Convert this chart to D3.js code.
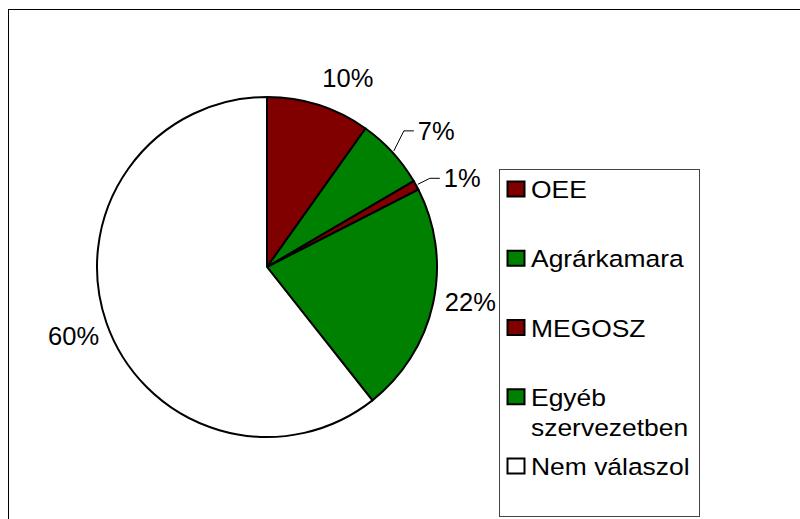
<!DOCTYPE html>
<html>
  <head>
    <meta charset="utf-8">
    <script src="https://d3js.org/d3.v7.min.js"></script>
    <style>
      body { margin: 0; background: #fff; }
      svg { display: block; font-family: "Liberation Sans", Arial, sans-serif; }
    </style>
  </head>
  <body>
    <svg width="800" height="519"></svg>
    <script>
      const categories = ["OEE", "Agrárkamara", "MEGOSZ", "Egyéb szervezetben", "Nem válaszol"];
      const values = [9.8, 6.7, 0.9, 21.8, 60.4];
      const colors = ["#800000", "#008000", "#800000", "#008000", "#ffffff"];

      const svg = d3.select("svg");
      const cx = 267, cy = 267, r = 170;

      // outer chart frame (runs past the right and bottom edge)
      svg.append("rect")
        .attr("x", 8.5).attr("y", 9.5)
        .attr("width", 820).attr("height", 530)
        .attr("fill", "none").attr("stroke", "#000").attr("stroke-width", 1);

      const data = categories.map((c, i) => ({ name: c, value: values[i], color: colors[i] }));

      const pie = d3.pie().value(d => d.value).sort(null);
      const arcs = pie(data);
      const arc = d3.arc().innerRadius(0).outerRadius(r);

      const g = svg.append("g").attr("transform", `translate(${cx},${cy})`);

      g.selectAll("path")
        .data(arcs)
        .enter().append("path")
        .attr("d", arc)
        .attr("fill", d => d.data.color)
        .attr("stroke", "#000")
        .attr("stroke-width", 2)
        .attr("stroke-linejoin", "round");

      const fmt = v => Math.round(v) + "%";
      const mid = d => (d.startAngle + d.endAngle) / 2;
      const at = (rad, a) => [Math.sin(a) * rad, -Math.cos(a) * rad];

      // label placement tweaks: [dx, dy] from the anchor point at r + 12
      const nudge = { "OEE": [0, -7], "Egyéb szervezetben": [0, 5], "Nem válaszol": [4, 18] };
      // small slices get a leader line: elbow offset from the edge point, then a short run
      const leader = { "Agrárkamara": [10, -20], "MEGOSZ": [12, -6] };

      arcs.forEach(d => {
        const a = mid(d);
        const label = fmt(d.data.value);
        if (leader[d.data.name]) {
          const s = at(r + 2, a);
          const e = [s[0] + leader[d.data.name][0], s[1] + leader[d.data.name][1]];
          const t = [e[0] + 10, e[1]];
          g.append("polyline")
            .attr("points", [s, e, t].map(p => p.join(",")).join(" "))
            .attr("fill", "none").attr("stroke", "#000").attr("stroke-width", 1);
          g.append("text")
            .attr("x", t[0] + 4).attr("y", t[1] + 9)
            .attr("font-size", 25.5)
            .text(label);
        } else {
          const p = at(r + 12, a);
          const n = nudge[d.data.name] || [0, 0];
          g.append("text")
            .attr("x", p[0] + n[0]).attr("y", p[1] + n[1])
            .attr("text-anchor", Math.sin(a) >= 0 ? "start" : "end")
            .attr("font-size", 25.5)
            .text(label);
        }
      });

      // legend
      const lx = 499.5, ly = 169.5, lw = 200, lh = 347;
      svg.append("rect")
        .attr("x", lx).attr("y", ly).attr("width", lw).attr("height", lh)
        .attr("fill", "#fff").attr("stroke", "#444").attr("stroke-width", 1);

      const legendY = d3.scalePoint().domain(categories).range([198, 475]);
      const item = svg.selectAll("g.item")
        .data(data)
        .enter().append("g")
        .attr("class", "item");

      item.append("rect")
        .attr("x", 507.5)
        .attr("y", d => legendY(d.name) - 16.5)
        .attr("width", 17).attr("height", 15)
        .attr("fill", d => d.color)
        .attr("stroke", "#000").attr("stroke-width", 2);

      item.append("text")
        .attr("transform", d => `translate(531,${legendY(d.name)}) scale(1.125,1)`)
        .attr("font-size", 23.5)
        .each(function(d) {
          const words = d.name.split(" ");
          const el = d3.select(this);
          if (words.length > 1 && d.name.length > 14) {
            words.forEach((w, i) => {
              el.append("tspan").attr("x", 0).attr("dy", i === 0 ? 0 : 30).text(w);
            });
          } else {
            el.text(d.name);
          }
        });
    </script>
  </body>
</html>
